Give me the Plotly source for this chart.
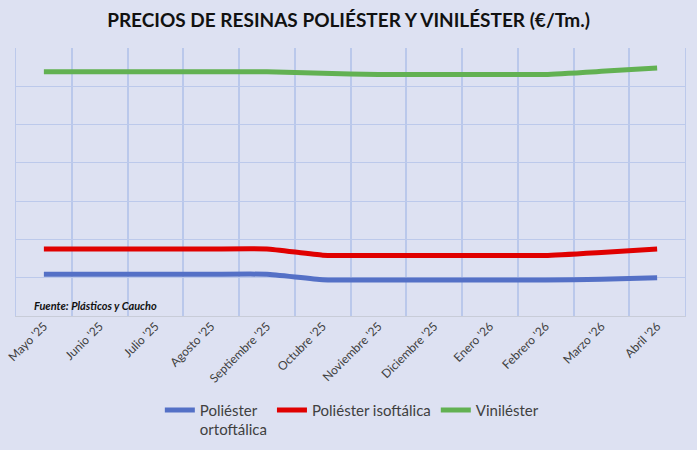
import plotly.graph_objects as go

months = ["Mayo '25", "Junio '25", "Julio '25", "Agosto '25", "Septiembre '25",
          "Octubre '25", "Noviembre '25", "Diciembre '25", "Enero '26",
          "Febrero '26", "Marzo '26", "Abril '26"]

orto = [1545, 1545, 1545, 1545, 1545, 1475, 1470, 1470, 1470, 1470, 1480, 1500]
iso = [1875, 1875, 1875, 1875, 1875, 1795, 1790, 1790, 1790, 1790, 1830, 1875]
vinil = [4190, 4190, 4190, 4190, 4190, 4170, 4155, 4155, 4155, 4155, 4195, 4240]

# name, values, colour, x axis used (x: grid between months, x2: month labels)
series = [
    ("Poliéster<br>ortoftálica", orto, "#5470C6", "x"),
    ("Poliéster isoftálica", iso, "#E00000", "x"),
    ("Viniléster", vinil, "#62B152", "x2"),
]

bg = "#DDE1F2"
grid = "#BCC9EB"
idx = list(range(len(months)))

fig = go.Figure()
for name, vals, color, xax in series:
    fig.add_trace(go.Scatter(
        x=idx, y=vals, name=name, mode="lines", xaxis=xax,
        line=dict(color=color, width=5, shape="spline", smoothing=0.4),
    ))

fig.update_layout(
    width=697, height=450,
    paper_bgcolor=bg, plot_bgcolor=bg,
    margin=dict(l=16, r=12, t=48, b=134, autoexpand=False),
    font=dict(family="Lato, 'Open Sans', sans-serif", color="#404040"),
    title=dict(
        text="<b>PRECIOS DE RESINAS POLIÉSTER Y VINILÉSTER (€/Tm.)</b>",
        x=0.5, xanchor="center", y=0.955, yanchor="middle",
        font=dict(size=19, color="#111111", family="Lato, 'Open Sans', sans-serif"),
    ),
    xaxis=dict(
        range=[-0.5, 11.5], tickmode="linear", tick0=-0.5, dtick=1,
        showticklabels=False, ticks="", automargin=False,
        showgrid=True, gridcolor="#BAC8EB", gridwidth=1.5, zeroline=False,
        showline=True, linecolor="#C8CCD8", linewidth=1,
    ),
    xaxis2=dict(
        overlaying="x", anchor="y", side="bottom", range=[-0.5, 11.5],
        tickmode="array", tickvals=idx, ticktext=months,
        showgrid=False, zeroline=False, automargin=False,
        ticks="", tickangle=-45, tickfont=dict(size=12, color="#404040"),
    ),
    yaxis=dict(
        range=[1000, 4500], dtick=500, showticklabels=False, automargin=False,
        showgrid=True, gridcolor=grid, gridwidth=1, zeroline=False,
        showline=True, linecolor=grid, mirror=True,
    ),
    legend=dict(
        orientation="h", x=0.215, xanchor="left", y=-0.29, yanchor="top",
        font=dict(size=15, color="#404040"), valign="top",
        bgcolor="rgba(0,0,0,0)", itemwidth=30,
    ),
    showlegend=True,
)

fig.add_annotation(
    text="<b><i>Fuente: Plásticos y Caucho</i></b>",
    xref="paper", yref="paper", x=0.024, y=0.041, xanchor="left", yanchor="middle",
    showarrow=False, font=dict(size=11, color="#111111"),
)

fig.write_html("out.html", config=dict(displayModeBar=False),
               post_script="document.body.style.margin='0';")
